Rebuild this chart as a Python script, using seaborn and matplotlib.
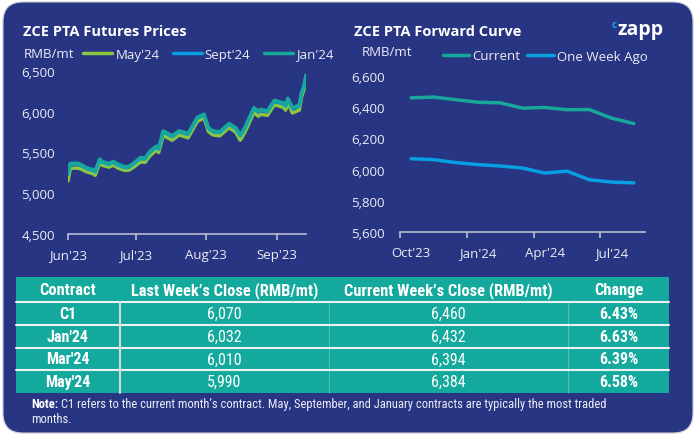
import matplotlib
matplotlib.use("Agg")
import matplotlib.pyplot as plt
import matplotlib.dates as mdates
from matplotlib.patches import FancyBboxPatch, Rectangle
from matplotlib.ticker import FuncFormatter, FixedLocator
import seaborn as sns
import pandas as pd
import numpy as np

# ---- data ----
dates = ["2023-06-01", "2023-06-02", "2023-06-05", "2023-06-07", "2023-06-09", "2023-06-12",
         "2023-06-13", "2023-06-15", "2023-06-16", "2023-06-19", "2023-06-21", "2023-06-23",
         "2023-06-26", "2023-06-28", "2023-06-30", "2023-07-03", "2023-07-05", "2023-07-07",
         "2023-07-10", "2023-07-11", "2023-07-13", "2023-07-17", "2023-07-20", "2023-07-24",
         "2023-07-28", "2023-07-31", "2023-08-02", "2023-08-04", "2023-08-07", "2023-08-11",
         "2023-08-14", "2023-08-16", "2023-08-18", "2023-08-22", "2023-08-24", "2023-08-25",
         "2023-08-28", "2023-08-31", "2023-09-04", "2023-09-05", "2023-09-06", "2023-09-08",
         "2023-09-11", "2023-09-12", "2023-09-13", "2023-09-14"]
may24 = [5150, 5305, 5310, 5295, 5265, 5240, 5220, 5375, 5345, 5320, 5345, 5310,
         5280, 5285, 5320, 5385, 5380, 5455, 5530, 5500, 5710, 5650, 5715, 5680,
         5880, 5925, 5755, 5715, 5705, 5805, 5750, 5650, 5745, 5990, 5945, 5970,
         5955, 6085, 6055, 6020, 6110, 5985, 6020, 6180, 6265, 6365]
sept24 = [5235, 5355, 5360, 5340, 5305, 5280, 5262, 5410, 5380, 5355, 5380, 5345,
          5315, 5320, 5360, 5430, 5420, 5500, 5570, 5540, 5755, 5695, 5755, 5725,
          5920, 5960, 5795, 5755, 5745, 5845, 5795, 5705, 5795, 6040, 6000, 6020,
          6000, 6130, 6100, 6070, 6155, 6040, 6070, 6225, 6300, 6430]
jan24 = [5255, 5365, 5370, 5350, 5315, 5290, 5275, 5420, 5390, 5365, 5390, 5357,
         5325, 5330, 5370, 5440, 5430, 5510, 5580, 5550, 5765, 5705, 5765, 5735,
         5930, 5970, 5805, 5765, 5755, 5855, 5805, 5715, 5805, 6050, 6010, 6030,
         6010, 6140, 6110, 6080, 6165, 6050, 6080, 6235, 6310, 6450]

curve_months = ["Oct'23", "Nov'23", "Dec'23", "Jan'24", "Feb'24", "Mar'24",
                "Apr'24", "May'24", "Jun'24", "Jul'24", "Aug'24"]
current = [6460, 6465, 6448, 6432, 6428, 6394, 6398, 6384, 6385, 6330, 6295]
week_ago = [6070, 6064, 6045, 6032, 6023, 6010, 5978, 5990, 5935, 5920, 5915]

contracts = ["C1", "Jan'24", "Mar'24", "May'24"]
last_close = [6070, 6032, 6010, 5990]
current_close = [6460, 6432, 6394, 6384]
table_headers = ["Contract", "Last Week\u2019s Close (RMB/mt)", "Current Week\u2019s Close (RMB/mt)", "Change"]

# ---- style ----
NAVY = "#283583"
TEAL = "#17A89B"
TABLE_TEAL = "#14A99D"
GREEN = "#8DC63F"
BLUE = "#06A0E2"
TXT = "#ECEDF4"
AXIS = "#B9BDD3"
W, H = 696, 439

sns.set_theme(style="white")
plt.rcParams["font.family"] = ["Open Sans", "DejaVu Sans"]
NARROW = ["Roboto Condensed", "Roboto", "Open Sans"]


def px_box(l, t, r, b):
    return [l / W, 1 - b / H, (r - l) / W, (b - t) / H]


fig = plt.figure(figsize=(W / 100, H / 100), dpi=100)
fig.patch.set_facecolor("white")

# background axes in pixel units
bg = fig.add_axes([0, 0, 1, 1])
bg.set_xlim(0, W)
bg.set_ylim(H, 0)
bg.axis("off")
bg.add_patch(FancyBboxPatch((3, 3), 690, 431, boxstyle="round,pad=0,rounding_size=20",
                            facecolor=NAVY, edgecolor="#C9CAD3", linewidth=0.8))

# titles and logo
bg.text(23, 32, "ZCE PTA Futures Prices", color="white", fontsize=10.5, fontweight="bold", va="center")
bg.text(354, 32, "ZCE PTA Forward Curve", color="white", fontsize=10.5, fontweight="bold", va="center")
bg.text(618, 30, "zapp", color="white", fontsize=14, fontweight="bold", va="center")
bg.text(612, 25, "c", color="#14A8E0", fontsize=7, fontweight="bold", va="center")
bg.text(24, 54, "RMB/mt", color=TXT, fontsize=9.5, va="center")
bg.text(362, 53, "RMB/mt", color=TXT, fontsize=9.5, va="center")

# ---- left chart: futures prices ----
ax1 = fig.add_axes(px_box(68, 72, 306, 235))
ax1.patch.set_alpha(0)
df = pd.DataFrame({"date": pd.to_datetime(dates), "May'24": may24, "Sept'24": sept24, "Jan'24": jan24})
long_df = df.melt(id_vars="date", var_name="contract", value_name="price")
sns.lineplot(data=long_df, x="date", y="price", hue="contract",
             hue_order=["May'24", "Sept'24", "Jan'24"],
             palette={"May'24": GREEN, "Sept'24": BLUE, "Jan'24": TEAL},
             linewidth=2.5, ax=ax1)
ax1.set_xlim(pd.Timestamp("2023-06-01"), pd.Timestamp("2023-09-14"))
ax1.set_ylim(4500, 6500)
ax1.set_yticks([4500, 5000, 5500, 6000, 6500])
ax1.xaxis.set_major_locator(mdates.MonthLocator())
ax1.xaxis.set_major_formatter(mdates.DateFormatter("%b'%y"))
handles, labels = ax1.get_legend_handles_labels()
ax1.get_legend().remove()
ax1.legend(handles, labels, loc="center left", bbox_to_anchor=(83 / W, 1 - 55 / H),
           bbox_transform=fig.transFigure, ncol=3, frameon=False, borderpad=0, borderaxespad=0,
           handlelength=2.2, handletextpad=0.25, columnspacing=1.0, fontsize=9.5, labelcolor=TXT)

# ---- right chart: forward curve ----
ax2 = fig.add_axes(px_box(400, 77, 645, 233))
ax2.patch.set_alpha(0)
pos = np.arange(len(curve_months))
sns.lineplot(x=pos, y=current, color=TEAL, linewidth=2.5, ax=ax2, label="Current")
sns.lineplot(x=pos, y=week_ago, color=BLUE, linewidth=2.5, ax=ax2, label="One Week Ago")
ax2.set_xlim(-0.5, len(curve_months) - 0.5)
ax2.set_ylim(5600, 6600)
ax2.set_yticks(np.arange(5600, 6601, 200))
ax2.xaxis.set_major_locator(FixedLocator(pos[::3] - 0.5))
ax2.xaxis.set_major_formatter(FuncFormatter(lambda v, p: ""))
ax2.xaxis.set_minor_locator(FixedLocator(pos[::3]))
ax2.xaxis.set_minor_formatter(FuncFormatter(lambda v, p: curve_months[int(round(v))]))
ax2.tick_params(axis="x", which="minor", length=0, pad=10, labelsize=9.5, labelcolor=TXT)
ax2.legend(loc="center left", bbox_to_anchor=(443 / W, 1 - 57 / H),
           bbox_transform=fig.transFigure, ncol=2, frameon=False, borderpad=0, borderaxespad=0,
           handlelength=2.0, handletextpad=0.25, columnspacing=0.5, fontsize=9.5, labelcolor=TXT)

for ax, ypad in ((ax1, 9.5), (ax2, 11)):
    ax.set_xlabel("")
    ax.set_ylabel("")
    sns.despine(ax=ax, left=True)
    ax.spines["bottom"].set_color(AXIS)
    ax.spines["bottom"].set_linewidth(1.2)
    ax.yaxis.set_major_formatter(FuncFormatter(lambda v, p: f"{v:,.0f}"))
    ax.tick_params(axis="y", length=0, pad=ypad, labelsize=9.5, labelcolor=TXT)
    ax.tick_params(axis="x", which="major", direction="out", length=4, width=1.2, color=AXIS,
                   pad=6, labelsize=9.5, labelcolor=TXT, bottom=True)
    ax.grid(False)

# ---- table ----
col_edges = [16, 120, 329, 568, 669]
row_edges = [278, 303, 326, 349, 371, 394]
bg.add_patch(Rectangle((col_edges[0], row_edges[0]), col_edges[-1] - col_edges[0],
                       row_edges[-1] - row_edges[0], facecolor=TABLE_TEAL, edgecolor="none"))
for y in row_edges[1:-1]:
    bg.plot([col_edges[0], col_edges[-1]], [y, y], color="#EDEFF2", linewidth=1.5)
bg.plot([col_edges[1]] * 2, [row_edges[1], row_edges[-1]], color="#D5D8DD", linewidth=1.5)
for x in col_edges[2:4]:
    bg.plot([x, x], [row_edges[1], row_edges[-1]], color="white", alpha=0.25, linewidth=0.8)

col_centers = [(a + b) / 2 for a, b in zip(col_edges[:-1], col_edges[1:])]
for cx, head in zip(col_centers, table_headers):
    bg.text(cx, (row_edges[0] + row_edges[1]) / 2, head, color="white", fontsize=11.8,
            fontweight="bold", family=NARROW, ha="center", va="center")
for i, name in enumerate(contracts):
    cy = (row_edges[i + 1] + row_edges[i + 2]) / 2
    change = (current_close[i] / last_close[i] - 1) * 100
    cells = [(name, "bold"), (f"{last_close[i]:,}", "normal"),
             (f"{current_close[i]:,}", "normal"), (f"{change:.2f}%", "bold")]
    for cx, (val, wt) in zip(col_centers, cells):
        bg.text(cx, cy, val, color="white", fontsize=11.5, fontweight=wt, family=NARROW,
                ha="center", va="center")

# note
note_label = bg.text(31, 405, "Note:", color="white", fontsize=9, fontweight="bold",
                     family=NARROW, va="center")
fig.canvas.draw()
bb = note_label.get_window_extent().transformed(bg.transData.inverted())
bg.text(bb.x1 + 3, 405, "C1 refers to the current month\u2019s contract. May, September, and January "
        "contracts are typically the most traded", color=TXT, fontsize=9, family=NARROW, va="center")
bg.text(31, 420, "months.", color=TXT, fontsize=9, family=NARROW, va="center")

fig.savefig("out.png", dpi=100, facecolor="white")
